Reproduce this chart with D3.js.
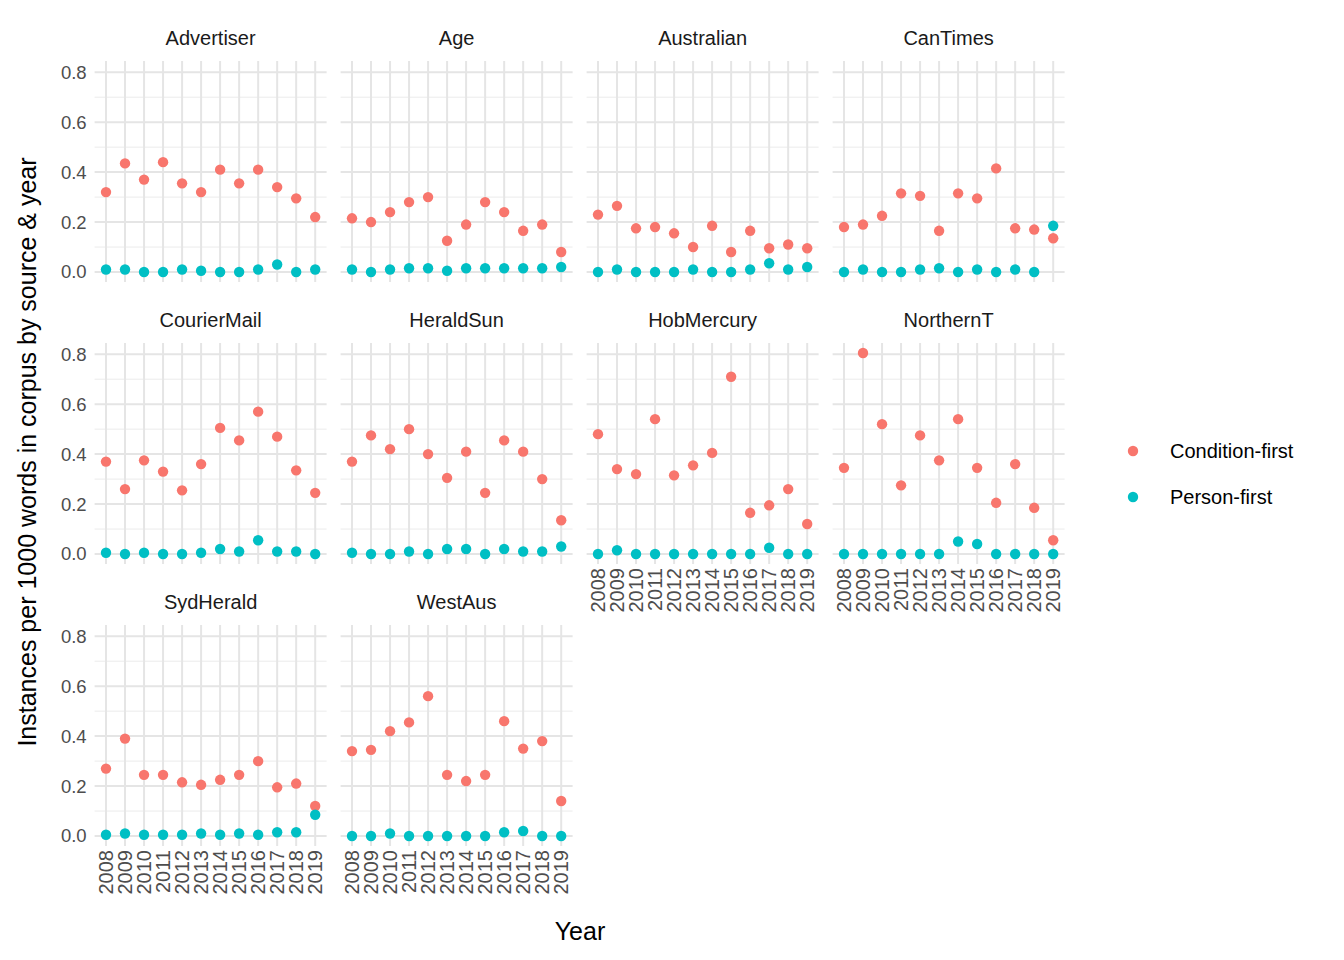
<!DOCTYPE html>
<html lang="en">
<meta charset="UTF-8">
<script src="https://d3js.org/d3.v7.min.js"></script>
<style>body{margin:0;background:#fff}</style>
<body>
<svg id="canvas"></svg>
<script>
let years = ['2008','2009','2010','2011','2012','2013','2014','2015','2016','2017','2018','2019']
let sources = ['Advertiser','Age','Australian','CanTimes','CourierMail','HeraldSun','HobMercury','NorthernT','SydHerald','WestAus']
let conditionFirst = [
  [0.32,0.435,0.37,0.44,0.355,0.32,0.41,0.355,0.41,0.34,0.295,0.22],
  [0.215,0.2,0.24,0.28,0.3,0.125,0.19,0.28,0.24,0.165,0.19,0.08],
  [0.23,0.265,0.175,0.18,0.155,0.1,0.185,0.08,0.165,0.095,0.11,0.095],
  [0.18,0.19,0.225,0.315,0.305,0.165,0.315,0.295,0.415,0.175,0.17,0.135],
  [0.37,0.26,0.375,0.33,0.255,0.36,0.505,0.455,0.57,0.47,0.335,0.245],
  [0.37,0.475,0.42,0.5,0.4,0.305,0.41,0.245,0.455,0.41,0.3,0.135],
  [0.48,0.34,0.32,0.54,0.315,0.355,0.405,0.71,0.165,0.195,0.26,0.12],
  [0.345,0.805,0.52,0.275,0.475,0.375,0.54,0.345,0.205,0.36,0.185,0.055],
  [0.27,0.39,0.245,0.245,0.215,0.205,0.225,0.245,0.3,0.195,0.21,0.12],
  [0.34,0.345,0.42,0.455,0.56,0.245,0.22,0.245,0.46,0.35,0.38,0.14]
]
let personFirst = [
  [0.01,0.01,0,0,0.01,0.005,0,0,0.01,0.03,0,0.01],
  [0.01,0,0.01,0.015,0.015,0.005,0.015,0.015,0.015,0.015,0.015,0.02],
  [0,0.01,0,0,0,0.01,0,0,0.01,0.035,0.01,0.02],
  [0,0.01,0,0,0.01,0.015,0,0.01,0,0.01,0,0.185],
  [0.005,0,0.005,0,0,0.005,0.02,0.01,0.055,0.01,0.01,0],
  [0.005,0,0,0.01,0,0.02,0.02,0,0.02,0.01,0.01,0.03],
  [0,0.015,0,0,0,0,0,0,0,0.025,0,0],
  [0,0,0,0,0,0,0.05,0.04,0,0,0,0],
  [0.005,0.01,0.005,0.005,0.005,0.01,0.005,0.01,0.005,0.015,0.015,0.085],
  [0,0,0.01,0,0,0,0,0,0.015,0.02,0,0]
]
let yTicks = [0,0.2,0.4,0.6,0.8]
let series = ['Condition-first','Person-first']
let colors = ['#F8766D','#00BFC4']

let width = 1344, height = 960
let svg = d3.select('#canvas').attr('width', width).attr('height', height)
  .style('font-family', 'Liberation Sans, Arial, sans-serif')

let panelW = 232, stepX = 246, left0 = 94.6
let panelTop0 = 61, panelH = 221, stepY = 282

let x = d3.scalePoint().domain(years).range([11.4, panelW - 11.4])
let y = d3.scaleLinear().domain([-0.04, 0.845]).range([panelH, 0])

sources.forEach((src, i) => {
  let col = i % 4, row = Math.floor(i / 4)
  let g = svg.append('g').attr('transform', `translate(${left0 + col*stepX},${panelTop0 + row*stepY})`)
  // minor grid
  d3.range(0.1, 0.85, 0.2).forEach(v => {
    g.append('line').attr('x1',0).attr('x2',panelW).attr('y1',y(v)).attr('y2',y(v))
      .attr('stroke','#EBEBEB').attr('stroke-width',1)
  })
  yTicks.forEach(v => {
    g.append('line').attr('x1',0).attr('x2',panelW).attr('y1',y(v)).attr('y2',y(v))
      .attr('stroke','#E5E5E5').attr('stroke-width',2)
  })
  years.forEach(yr => {
    g.append('line').attr('x1',x(yr)).attr('x2',x(yr)).attr('y1',0).attr('y2',panelH)
      .attr('stroke','#E5E5E5').attr('stroke-width',2)
  })
  g.append('text').attr('x', panelW/2).attr('y', -16).attr('text-anchor','middle')
    .attr('font-size', 20).attr('fill','#1A1A1A').text(src)
  if (col === 0) {
    yTicks.forEach(v => {
      g.append('text').attr('x', -8).attr('y', y(v)).attr('dy','0.35em').attr('text-anchor','end')
        .attr('font-size', 18.5).attr('fill','#4D4D4D').text(v.toFixed(1))
    })
  }
  let bottom = (row === 2) || (row === 1 && col >= 2)
  if (bottom) {
    years.forEach(yr => {
      g.append('text').attr('transform', `translate(${x(yr)},${panelH + 4}) rotate(-90)`)
        .attr('dy','0.35em').attr('text-anchor','end')
        .attr('font-size', 20).attr('fill','#4D4D4D').text(yr)
    })
  }
  ;[conditionFirst[i], personFirst[i]].forEach((vals, s) => {
    g.selectAll(null).data(vals).enter().append('circle')
      .attr('cx', (d, j) => x(years[j])).attr('cy', d => y(d)).attr('r', 5.2)
      .attr('fill', colors[s])
  })
})

svg.append('text').attr('x', 580).attr('y', 940).attr('text-anchor','middle')
  .attr('font-size', 25).attr('fill','#000').text('Year')
svg.append('text').attr('transform','translate(36,452) rotate(-90)').attr('text-anchor','middle')
  .attr('font-size', 25).attr('fill','#000').text('Instances per 1000 words in corpus by source & year')

series.forEach((s, k) => {
  svg.append('circle').attr('cx', 1133).attr('cy', 451 + k*46).attr('r', 5.2).attr('fill', colors[k])
  svg.append('text').attr('x', 1170).attr('y', 451 + k*46).attr('dy','0.35em')
    .attr('font-size', 20).attr('fill','#000').text(s)
})
</script>
</body>
</html>
